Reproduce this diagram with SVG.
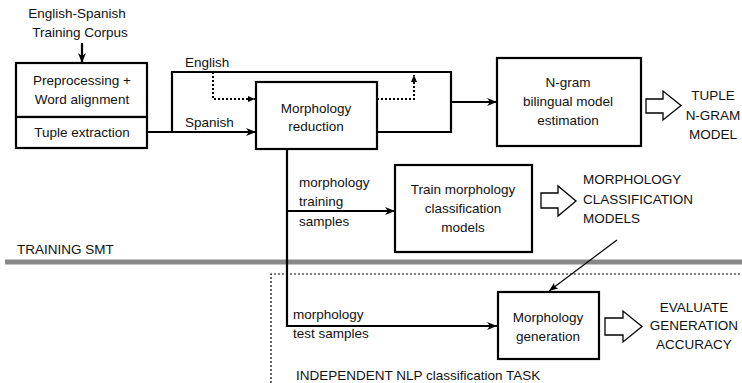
<svg xmlns="http://www.w3.org/2000/svg" width="742" height="383" viewBox="0 0 742 383">
<defs>
<marker id="ah" markerWidth="10" markerHeight="8" refX="10" refY="4" orient="auto" markerUnits="userSpaceOnUse"><path d="M0,0 L10,4 L0,8 L3,4 Z" fill="#000"/></marker>
<marker id="ahs" markerWidth="7" markerHeight="6" refX="7" refY="3" orient="auto" markerUnits="userSpaceOnUse"><path d="M0,0 L7,3 L0,6 Z" fill="#000"/></marker>
<marker id="aht" markerWidth="9" markerHeight="7" refX="9" refY="3.5" orient="auto" markerUnits="userSpaceOnUse"><path d="M0,0 L9,3.5 L0,7 L2,3.5 Z" fill="#000"/></marker>
</defs>
<style>
text{font-family:"Liberation Sans",Arial,Helvetica,sans-serif;font-size:13.5px;fill:#111}
.c{text-anchor:middle}
.box{fill:#fff;stroke:#000;stroke-width:2.2}
.ln{fill:none;stroke:#000;stroke-width:2.2}
.dot{fill:none;stroke:#000;stroke-width:2;stroke-dasharray:2 2}
.hol{fill:#fff;stroke:#000;stroke-width:1.3}
</style>
<line x1="5" y1="262" x2="742" y2="262" stroke="#888" stroke-width="5"/>
<text x="17" y="254">TRAINING SMT</text>
<path d="M271,383 V274 H742" fill="none" stroke="#000" stroke-width="1.2" stroke-dasharray="2 2"/>
<text x="296" y="380">INDEPENDENT NLP classification TASK</text>
<g id="connectors">
<line class="ln" x1="82" y1="43" x2="82" y2="63" marker-end="url(#ah)"/>
<line class="ln" x1="147" y1="132" x2="256" y2="132" marker-end="url(#ah)"/>
<path class="ln" d="M172,132 V72 H451 V132 H377"/>
<line class="ln" x1="451" y1="102" x2="497" y2="102" marker-end="url(#ah)"/>
<path class="dot" d="M213,72 V99 H255" marker-end="url(#ahs)"/>
<path class="dot" d="M377,99 H414 V75" marker-end="url(#ahs)"/>
<line class="ln" x1="287" y1="149" x2="287" y2="327"/>
<line class="ln" x1="286" y1="211" x2="395" y2="211" marker-end="url(#ah)"/>
<line class="ln" x1="286" y1="326" x2="497" y2="326" marker-end="url(#ah)"/>
<line x1="617" y1="240" x2="549" y2="291" stroke="#000" stroke-width="1.2" marker-end="url(#aht)"/>
</g>
<text class="c" x="77" y="18">English-Spanish</text>
<text class="c" x="80" y="37">Training Corpus</text>
<g id="preproc">
<rect class="box" x="16" y="63" width="131" height="54"/>
<text class="c" x="82" y="85">Preprocessing +</text>
<text class="c" x="82" y="104">Word alignment</text>
</g>
<g id="tuple">
<rect class="box" x="16" y="117" width="131" height="31"/>
<text class="c" x="82" y="137">Tuple extraction</text>
</g>
<text x="185" y="67">English</text>
<text x="185" y="127">Spanish</text>
<g id="morphred">
<rect class="box" x="256" y="82" width="121" height="67"/>
<text class="c" x="316" y="113">Morphology</text>
<text class="c" x="316" y="131">reduction</text>
</g>
<g id="ngram">
<rect class="box" x="497" y="58" width="144" height="88"/>
<text class="c" x="568" y="87">N-gram</text>
<text class="c" x="568" y="106">bilingual model</text>
<text class="c" x="568" y="125">estimation</text>
</g>
<polygon class="hol" points="646,99 663,99 663,91 681,105.5 663,120 663,113 646,113"/>
<text class="c" x="713" y="100">TUPLE</text>
<text class="c" x="713" y="120">N-GRAM</text>
<text class="c" x="713" y="139">MODEL</text>
<text x="299" y="187">morphology</text>
<text x="299" y="206">training</text>
<text x="299" y="226">samples</text>
<g id="train">
<rect class="box" x="395" y="165" width="137" height="87"/>
<text class="c" x="463" y="194">Train morphology</text>
<text class="c" x="463" y="213">classification</text>
<text class="c" x="463" y="232">models</text>
</g>
<polygon class="hol" points="541,193 558,193 558,186 576,201 558,216 558,208 541,208"/>
<text x="583" y="184">MORPHOLOGY</text>
<text x="583" y="204">CLASSIFICATION</text>
<text x="583" y="223">MODELS</text>
<text x="293" y="319">morphology</text>
<text x="293" y="338">test samples</text>
<g id="morphgen">
<rect class="box" x="498" y="292" width="101" height="67"/>
<text class="c" x="548" y="322">Morphology</text>
<text class="c" x="548" y="341">generation</text>
</g>
<polygon class="hol" points="605,318 623,318 623,311 642,326.5 623,342 623,335 605,335"/>
<text class="c" x="694" y="312">EVALUATE</text>
<text class="c" x="694" y="330">GENERATION</text>
<text class="c" x="694" y="349">ACCURACY</text>
</svg>
